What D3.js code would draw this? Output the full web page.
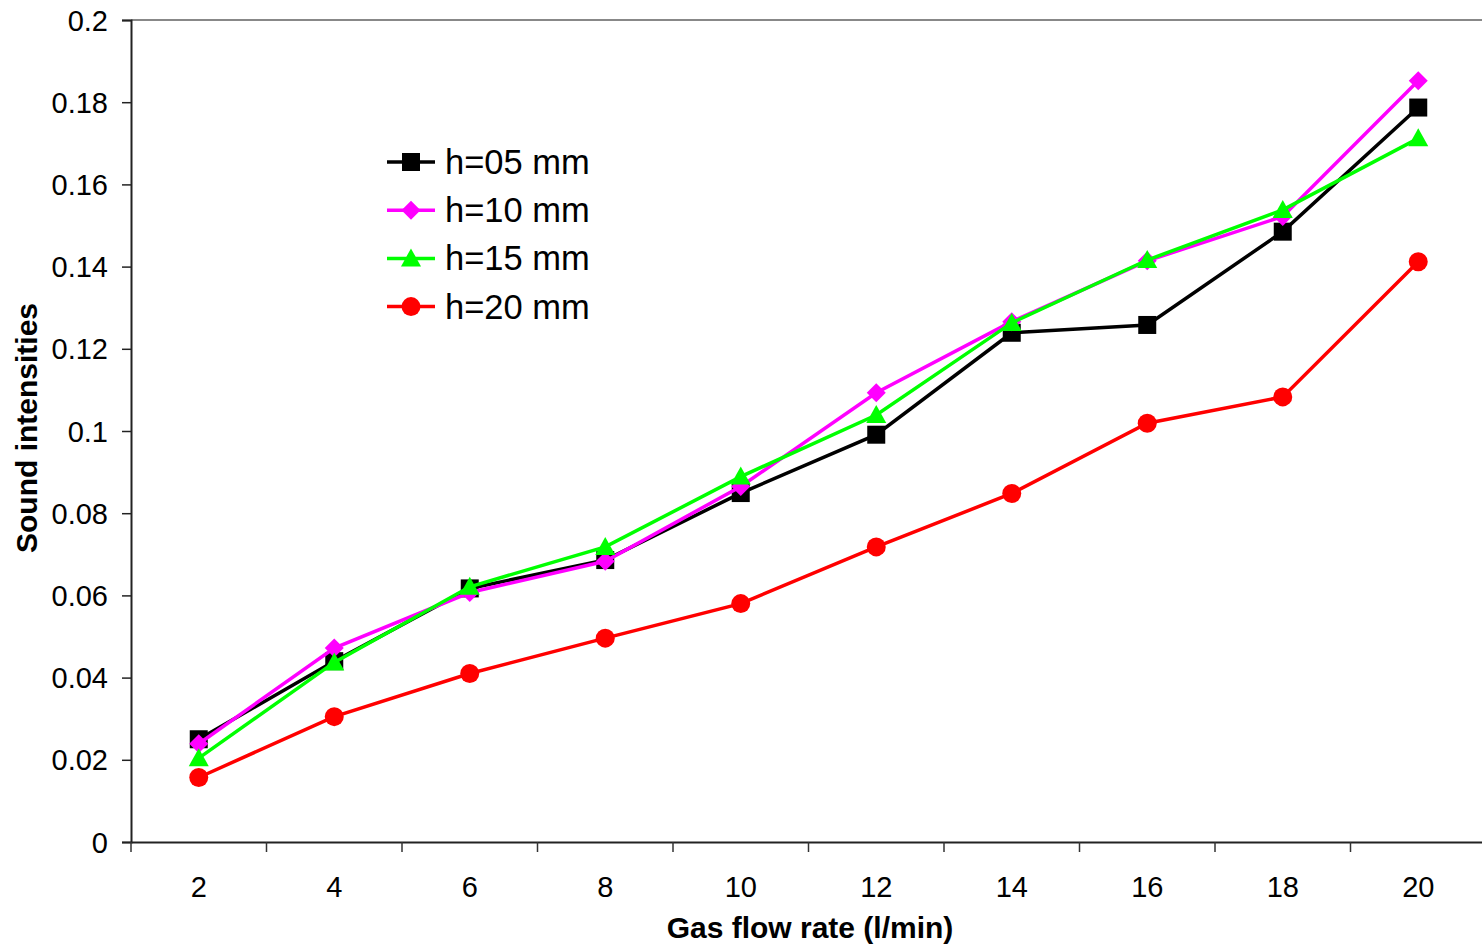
<!DOCTYPE html>
<html><head><meta charset="utf-8">
<script src="https://cdn.jsdelivr.net/npm/d3@7"></script>
<style>body{margin:0;background:#fff}svg{display:block}text{font-family:Arial,"Liberation Sans",sans-serif}</style>
</head><body>
<svg id="c" width="1482" height="946"></svg>
<script>
const categories = ["2","4","6","8","10","12","14","16","18","20"];
const h05 = [0.0250,0.0440,0.0617,0.0686,0.0849,0.0991,0.1239,0.1258,0.1485,0.1787];
const h10 = [0.0239,0.0472,0.0607,0.0683,0.0865,0.1093,0.1266,0.1414,0.1522,0.1852];
const h15 = [0.0204,0.0437,0.0621,0.0718,0.0889,0.1039,0.1263,0.1416,0.1538,0.1712];
const h20 = [0.0157,0.0305,0.0410,0.0496,0.0580,0.0718,0.0848,0.1019,0.1083,0.1412];
const seriesNames = ["h=05 mm","h=10 mm","h=15 mm","h=20 mm"];
const yTicks = [0,0.02,0.04,0.06,0.08,0.1,0.12,0.14,0.16,0.18,0.2];

const series = [
  {name: seriesNames[0], values: h05, color: "#000000", shape: "square"},
  {name: seriesNames[1], values: h10, color: "#FF00FF", shape: "diamond"},
  {name: seriesNames[2], values: h15, color: "#00FF00", shape: "triangle"},
  {name: seriesNames[3], values: h20, color: "#FF0000", shape: "circle"}
];

const svg = d3.select("#c");
const L = 131, R = 1486, T = 20, B = 842;
const x = d3.scaleBand().domain(categories).range([L, R]).padding(0);
const y = d3.scaleLinear().domain([0, 0.2]).range([B, T]);

// top border
svg.append("line").attr("x1", L).attr("x2", 1482).attr("y1", T).attr("y2", T)
  .attr("stroke", "#888").attr("stroke-width", 2);

// y axis
const yAxis = svg.append("g").attr("transform", `translate(${L},0)`)
  .call(d3.axisLeft(y).tickValues(yTicks).tickSize(9).tickPadding(14).tickFormat(d => d3.format("~g")(d)));
yAxis.select(".domain").attr("stroke", "#222").attr("stroke-width", 2);
yAxis.selectAll(".tick line").attr("stroke", "#222").attr("stroke-width", 1.5);
yAxis.selectAll(".tick text").attr("font-size", 29).attr("fill", "#000").attr("dy", "0.35em")
  .style("font-family", "Arial, 'Liberation Sans', sans-serif");

// x axis
const xAxis = svg.append("g").attr("transform", `translate(0,${B})`)
  .call(d3.axisBottom(x).tickSize(0).tickPadding(0));
xAxis.select(".domain").attr("stroke", "#222").attr("stroke-width", 2);
xAxis.selectAll(".tick text").attr("font-size", 29).attr("fill", "#000").attr("y", 55).attr("dy", 0)
  .style("font-family", "Arial, 'Liberation Sans', sans-serif");
// category boundary tick marks
const bounds = categories.map(c => x(c)).concat([x(categories[categories.length-1]) + x.bandwidth()]);
svg.append("g").selectAll("line").data(bounds).join("line")
  .attr("x1", d => d).attr("x2", d => d).attr("y1", B).attr("y2", B + 10)
  .attr("stroke", "#333").attr("stroke-width", 1.5);

// axis titles
svg.append("text").attr("x", 810).attr("y", 938).attr("text-anchor", "middle")
  .attr("font-size", 30).attr("font-weight", "bold").text("Gas flow rate (l/min)");
svg.append("text").attr("transform", "translate(37,428) rotate(-90)").attr("text-anchor", "middle")
  .attr("font-size", 30).attr("font-weight", "bold").text("Sound intensities");

function marker(g, shape, color, cx, cy) {
  if (shape === "square") {
    g.append("rect").attr("x", cx - 9).attr("y", cy - 9).attr("width", 18).attr("height", 18).attr("fill", color);
  } else if (shape === "diamond") {
    g.append("path").attr("d", `M${cx},${cy-9.5}L${cx+9.5},${cy}L${cx},${cy+9.5}L${cx-9.5},${cy}Z`).attr("fill", color);
  } else if (shape === "triangle") {
    g.append("path").attr("d", `M${cx},${cy-10}L${cx+10},${cy+8}L${cx-10},${cy+8}Z`).attr("fill", color);
  } else {
    g.append("circle").attr("cx", cx).attr("cy", cy).attr("r", 9.5).attr("fill", color);
  }
}

const cx = c => x(c) + x.bandwidth() / 2;
const line = d3.line().x((d, i) => cx(categories[i])).y(d => y(d));

series.forEach(s => {
  const g = svg.append("g");
  g.append("path").attr("d", line(s.values)).attr("fill", "none")
    .attr("stroke", s.color).attr("stroke-width", 3.5).attr("stroke-linejoin", "miter");
  s.values.forEach((v, i) => marker(g, s.shape, s.color, cx(categories[i]), y(v)));
});

// legend
const lg = svg.append("g");
series.forEach((s, i) => {
  const yy = 162 + i * 48.2;
  lg.append("line").attr("x1", 387).attr("x2", 435).attr("y1", yy).attr("y2", yy)
    .attr("stroke", s.color).attr("stroke-width", 3.5);
  marker(lg, s.shape, s.color, 411, yy);
  lg.append("text").attr("x", 445).attr("y", yy + 12).attr("font-size", 34.5).attr("fill", "#000").text(s.name);
});
</script>
</body></html>
